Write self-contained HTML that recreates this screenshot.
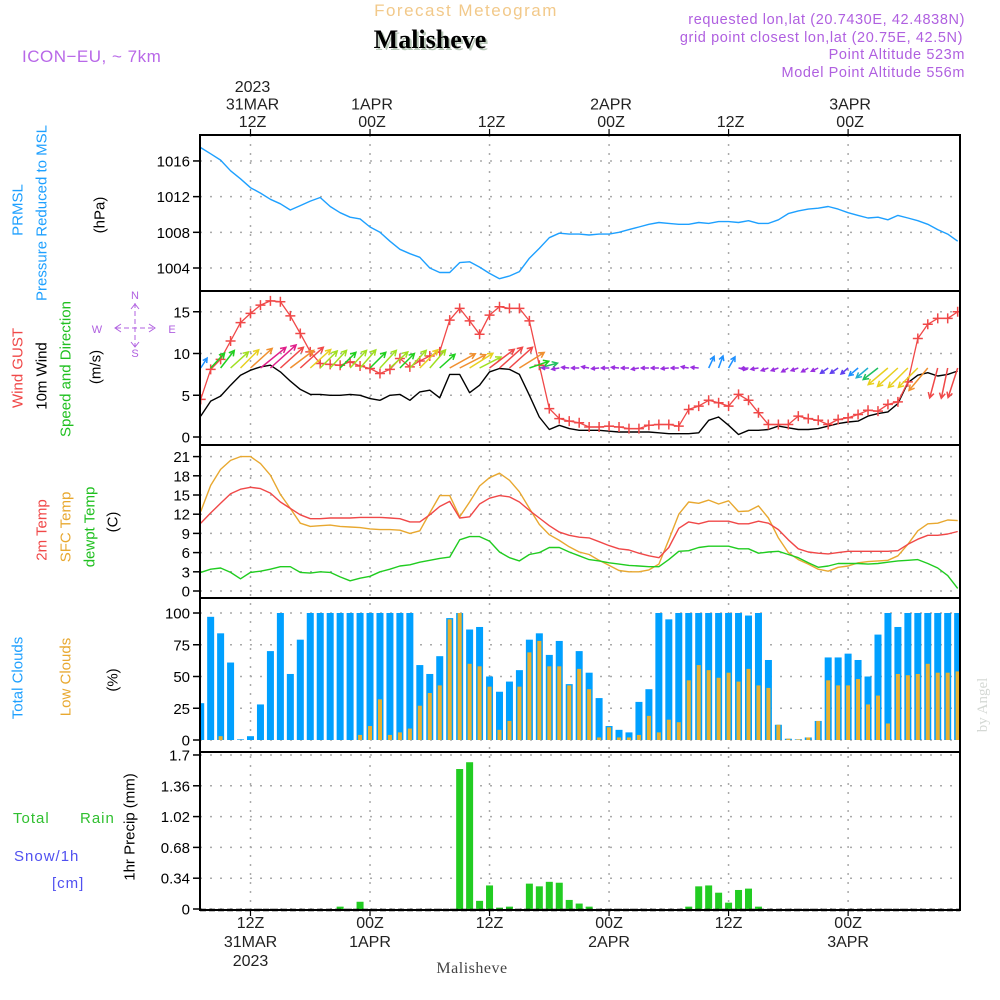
<!DOCTYPE html>
<html><head><meta charset="utf-8"><title>Malisheve Meteogram</title>
<style>
html,body{margin:0;padding:0;background:#fff;}
svg{display:block;}
text{font-family:"Liberation Sans",sans-serif;}
</style></head>
<body>
<svg id="chart" width="1000" height="1000" viewBox="0 0 1000 1000" xmlns="http://www.w3.org/2000/svg">
<rect x="0" y="0" width="1000" height="1000" fill="#fff"/>
<!-- header -->
<text x="466" y="16" text-anchor="middle" font-size="17" fill="#f2c98a" letter-spacing="1.5">Forecast Meteogram</text>
<text x="432" y="50" text-anchor="middle" font-size="26" font-weight="bold" fill="#b8c8b8" style="font-family:'Liberation Serif',serif">Malisheve</text>
<text x="430" y="48" text-anchor="middle" font-size="26" font-weight="bold" fill="#000" style="font-family:'Liberation Serif',serif">Malisheve</text>
<text x="22" y="62" font-size="17" fill="#b868e8" letter-spacing="0.5">ICON−EU, ~ 7km</text>
<text x="965" y="24" text-anchor="end" font-size="14.5" fill="#b060e0" letter-spacing="0.6">requested lon,lat (20.7430E, 42.4838N)</text>
<text x="963" y="42" text-anchor="end" font-size="14.5" fill="#b060e0" letter-spacing="0.6">grid point closest lon,lat (20.75E, 42.5N)</text>
<text x="965" y="59" text-anchor="end" font-size="14.5" fill="#b060e0" letter-spacing="0.6">Point Altitude 523m</text>
<text x="965" y="77" text-anchor="end" font-size="14.5" fill="#b060e0" letter-spacing="0.6">Model Point Altitude 556m</text>

<!-- left axis titles -->
<g font-size="15">
<text transform="translate(18,210) rotate(-90)" text-anchor="middle" dominant-baseline="central" fill="#1ea0ff">PRMSL</text>
<text transform="translate(42,213) rotate(-90)" text-anchor="middle" dominant-baseline="central" fill="#1ea0ff">Pressure Reduced to MSL</text>
<text transform="translate(100,215) rotate(-90)" text-anchor="middle" dominant-baseline="central" fill="#000">(hPa)</text>
<text transform="translate(18,368) rotate(-90)" text-anchor="middle" dominant-baseline="central" fill="#f04848">Wind GUST</text>
<text transform="translate(42,376) rotate(-90)" text-anchor="middle" dominant-baseline="central" fill="#000">10m Wind</text>
<text transform="translate(66,369) rotate(-90)" text-anchor="middle" dominant-baseline="central" fill="#20c020">Speed and Direction</text>
<text transform="translate(96,367) rotate(-90)" text-anchor="middle" dominant-baseline="central" fill="#000">(m/s)</text>
<text transform="translate(42,530) rotate(-90)" text-anchor="middle" dominant-baseline="central" fill="#f04848">2m Temp</text>
<text transform="translate(66,527) rotate(-90)" text-anchor="middle" dominant-baseline="central" fill="#e8a830">SFC Temp</text>
<text transform="translate(90,527) rotate(-90)" text-anchor="middle" dominant-baseline="central" fill="#20c020">dewpt Temp</text>
<text transform="translate(113,522) rotate(-90)" text-anchor="middle" dominant-baseline="central" fill="#000">(C)</text>
<text transform="translate(18,678) rotate(-90)" text-anchor="middle" dominant-baseline="central" fill="#1ea0ff">Total Clouds</text>
<text transform="translate(66,677) rotate(-90)" text-anchor="middle" dominant-baseline="central" fill="#e8a830">Low Clouds</text>
<text transform="translate(113,680) rotate(-90)" text-anchor="middle" dominant-baseline="central" fill="#000">(%)</text>
<text transform="translate(130,827) rotate(-90)" text-anchor="middle" dominant-baseline="central" fill="#000">1hr Precip (mm)</text>
</g>
<text x="13" y="823" font-size="15" fill="#30c030" letter-spacing="1">Total</text>
<text x="80" y="823" font-size="15" fill="#30c030" letter-spacing="1">Rain</text>
<text x="14" y="861" font-size="15" fill="#5050f0" letter-spacing="1">Snow/1h</text>
<text x="52" y="888" font-size="15" fill="#5050f0" letter-spacing="1">[cm]</text>
<!-- compass -->
<g fill="#b060e0" font-size="11" text-anchor="middle">
<text x="135" y="299">N</text><text x="135" y="357">S</text><text x="97" y="333">W</text><text x="172" y="333">E</text>
<line x1="116" y1="328" x2="154" y2="328" stroke="#b060e0" stroke-width="1" stroke-dasharray="5,3"/>
<line x1="135" y1="303" x2="135" y2="347" stroke="#b060e0" stroke-width="1" stroke-dasharray="5,3"/>
<path d="M121 324 L115 328 L121 332 M149 324 L155 328 L149 332 M131 309 L135 304 L139 309 M131 342 L135 347 L139 342" stroke="#b060e0" fill="none"/>
</g>
<text transform="translate(983,705) rotate(-90)" text-anchor="middle" dominant-baseline="central" font-size="15" fill="#d4d8d4" style="font-family:'Liberation Serif',serif">by Angel</text>
<text x="472" y="973" text-anchor="middle" font-size="16" fill="#444" style="font-family:'Liberation Serif',serif" letter-spacing="0.5">Malisheve</text>
<g id="plot"></g>
</svg>
<script>
// ---- data (hourly, hours since 00Z 31MAR, from h=7 to h=83) ----
const hourStart = 7;
const pressure = [1017.5,1016.8,1016.1,1014.9,1014.0,1013.0,1012.4,1011.7,1011.2,1010.5,1011.0,1011.5,1011.9,1010.9,1010.2,1009.7,1009.5,1008.6,1008.0,1007.0,1006.1,1005.6,1005.2,1004.0,1003.5,1003.5,1004.6,1004.7,1004.1,1003.4,1002.8,1003.1,1003.6,1005.1,1006.2,1007.4,1007.9,1007.8,1007.8,1007.7,1007.8,1007.8,1008.0,1008.3,1008.6,1008.9,1009.1,1009.0,1008.9,1008.9,1009.1,1009.0,1009.2,1009.2,1009.1,1009.3,1009.0,1009.0,1009.4,1010.1,1010.4,1010.6,1010.7,1010.9,1010.6,1010.2,1009.9,1009.6,1009.7,1009.4,1009.9,1009.6,1009.3,1008.9,1008.3,1007.8,1007.0];
const gust = [4.5,8.1,9.3,11.5,13.7,14.8,15.8,16.3,16.2,14.5,12.4,10.2,8.8,8.7,8.6,9.0,8.5,8.2,7.6,8.1,9.4,8.4,9.1,9.7,10.2,14.0,15.4,13.9,12.3,14.6,15.6,15.4,15.4,13.9,8.6,3.4,2.2,1.9,1.7,1.2,1.2,1.3,1.2,1.0,1.0,1.4,1.5,1.5,1.3,3.3,3.7,4.4,4.1,3.7,5.1,4.4,2.9,1.5,1.5,1.5,2.5,2.2,2.0,1.5,2.1,2.3,2.7,3.2,3.1,3.9,4.2,6.6,11.8,13.5,14.2,14.2,15.0];
const wind10m = [2.5,4.3,4.9,6.2,7.4,8.0,8.4,8.6,7.8,6.7,5.7,5.1,5.1,5.0,5.0,5.1,5.0,4.6,4.4,5.0,5.1,4.4,5.4,5.6,4.7,7.5,7.5,5.3,6.2,7.8,8.2,8.1,7.5,5.0,2.4,0.9,1.4,1.0,0.8,0.8,0.8,0.7,0.6,0.6,0.6,0.6,0.5,0.4,0.4,0.4,0.5,2.0,2.4,1.4,0.3,0.8,0.8,0.9,1.3,1.1,0.9,0.9,1.0,1.3,1.6,1.8,1.9,2.5,2.8,3.0,4.0,6.5,7.4,7.7,7.3,7.5,7.9];
const arrowSpd = [2.5,5,5.5,6,6.5,7.5,8.5,9,8,7.5,8,7,6,6,5.5,6,6,5.5,6,6,5,6,6.5,6,5,7.5,7.5,7,6,8,8,8,7.5,5,4.5,1.3,1.3,1.3,1.3,1.3,1.3,1.3,1.3,1.3,1.3,1.3,1.3,1.3,1.3,1.3,1.3,2.8,2.8,2.8,1.5,1.3,1.3,1.3,1.3,1.3,1.3,1.3,1.3,1.8,1.8,1.8,2.5,3.5,4.5,6.5,7,7,7,7.5,8,8,8];
const windDir = [213,223,218,228,225,228,231,228,228,233,228,228,225,223,225,223,221,225,223,228,225,223,225,221,228,241,243,238,243,233,228,228,238,251,255,90,80,95,90,100,85,90,95,90,80,90,90,85,90,100,95,205,200,210,280,85,80,70,70,60,70,60,65,55,55,50,50,50,52,50,48,45,45,40,15,12,18];
const temp2m = [10.6,12.2,13.7,15.2,15.9,16.2,16.0,15.3,13.9,12.9,11.9,11.3,11.3,11.4,11.4,11.4,11.5,11.5,11.5,11.4,11.3,10.8,10.8,11.9,13.2,14.0,11.4,11.6,13.6,14.5,14.9,14.7,13.9,12.6,11.4,10.2,9.2,8.7,8.4,8.3,7.7,7.1,6.6,6.4,5.9,5.5,5.2,6.8,9.8,10.8,10.5,10.9,10.9,10.9,10.5,10.5,10.9,10.6,9.6,8.0,6.6,6.1,5.9,5.8,6.0,6.2,6.2,6.2,6.2,6.2,6.3,7.3,8.1,8.7,8.7,8.9,9.3];
const tempSfc = [12.4,16.5,19.0,20.4,21.0,21.0,19.9,18.1,15.1,12.9,10.6,10.1,10.2,10.3,10.1,10.0,9.9,9.7,9.6,9.6,9.5,9.0,9.4,12.2,14.9,14.9,11.6,13.9,16.4,17.7,18.4,17.3,15.5,12.9,10.4,8.8,7.9,6.9,6.1,5.7,4.8,4.0,3.2,3.0,3.0,3.3,4.2,8.0,12.0,13.9,13.7,14.2,13.6,14.1,12.4,12.5,13.3,11.4,8.3,6.0,4.9,4.2,3.4,3.1,3.7,3.9,4.4,4.6,4.7,4.8,5.5,7.3,9.4,10.5,10.6,11.1,11.0];
const dewpt = [2.9,3.4,3.6,2.9,1.9,2.9,3.1,3.4,3.8,3.8,2.9,2.8,3.0,2.9,2.2,1.6,2.0,2.3,3.0,3.4,3.9,4.1,4.5,4.8,5.1,5.3,8.0,8.5,8.5,7.8,6.1,5.2,4.7,5.7,6.0,6.8,6.8,6.1,5.5,4.9,4.7,4.4,4.2,4.0,3.9,3.8,3.8,4.9,6.2,6.3,6.8,7.0,7.0,7.0,6.6,6.6,5.9,6.1,6.2,5.7,5.2,4.4,3.7,3.9,4.3,4.3,4.3,4.2,4.3,4.5,4.7,4.8,4.9,4.3,3.6,2.4,0.4];
const totalClouds = [29,97,84,61,0.5,3,28,70,100,52,79,100,100,100,100,100,100,100,100,100,100,100,59,52,66,96,100,87,89,50,38,46,55,79,84,67,78,44,70,53,33,11,8,6,30,40,100,95,100,100,100,100,100,100,100,98,100,63,12,1,0.5,2,15,65,65,68,63,50,83,100,89,100,100,100,100,100,100];
const lowClouds = [0,0,3,0,0,0,0,0,0,0,0,0,0,0,0,0,4,11,32,4,6,9,27,37,43,95,100,60,58,42,8,15,42,69,78,58,58,43,56,40,2,10,2,2,4,19,6,16,14,47,59,55,49,53,46,56,43,41,12,1,0.5,2,15,47,43,43,48,28,35,13,52,51,52,60,53,53,54];
const precipHours = [21,23,33,34,35,36,37,38,40,41,42,43,44,45,46,56,57,58,59,60,61,62,63];
const precipVals = [0.026,0.08,1.545,1.62,0.09,0.26,0.015,0.026,0.28,0.25,0.30,0.29,0.10,0.06,0.026,0.026,0.25,0.26,0.18,0.07,0.21,0.225,0.026];
const pTicks = [1004,1008,1012,1016];
const wTicks = [0,5,10,15];
const tTicks = [0,3,6,9,12,15,18,21];
const cTicks = [0,25,50,75,100];
const rTicks = [0,0.34,0.68,1.02,1.36,1.7];
const rTickLabels = ["0","0.34","0.68","1.02","1.36","1.7"];
const timeTickHours = [12,24,36,48,60,72];
const topLabels = [["2023","31MAR","12Z"],["","1APR","00Z"],["","","12Z"],["","2APR","00Z"],["","","12Z"],["","3APR","00Z"]];
const botLabels = [["12Z","31MAR","2023"],["00Z","1APR",""],["12Z","",""],["00Z","2APR",""],["12Z","",""],["00Z","3APR",""]];

// ---- axes ----
const X0=200, X1=960;
function xh(h){return 250.5+(h-12)*9.96;}
const yP=v=>268-(v-1004)*8.92;
const yW=v=>437-v*8.35;
const yT=v=>591-v*6.4;
const yC=v=>740-v*1.27;
const yR=v=>909-v*90.6;
const panels=[[135,291],[291,445],[445,598],[598,752],[752,910]];

const NS="http://www.w3.org/2000/svg";
const g=document.getElementById('plot');
function el(tag,attrs,parent){const e=document.createElementNS(NS,tag);for(const k in attrs)e.setAttribute(k,attrs[k]);(parent||g).appendChild(e);return e;}

const defs=el('defs',{});
const cp=el('clipPath',{id:'clipPlot'},defs);
el('rect',{x:X0,y:135,width:X1-X0,height:775},cp);

const grid=el('g',{});


function hgrid(ticks,yf,name){
  ticks.forEach(t=>{const l=el('line',{x1:X0,x2:X1,y1:yf(t),y2:yf(t),stroke:'#aaa','stroke-width':1.5,'stroke-dasharray':'2,8'},grid);
  
  });
}
hgrid(pTicks,yP,'pressure');hgrid(wTicks,yW,'wind');hgrid(tTicks,yT,'temp');hgrid(cTicks,yC,'clouds');hgrid(rTicks,yR,'precip');
timeTickHours.forEach(h=>{const l=el('line',{x1:xh(h),x2:xh(h),y1:135,y2:910,stroke:'#aaa','stroke-width':1.5,'stroke-dasharray':'2,7'},grid);
  
  });

function yticks(ticks,labels,yf,name){
  const gg=el('g',{});
  
  
  ticks.forEach((t,i)=>{
    el('line',{x1:X0-7,x2:X0,y1:yf(t),y2:yf(t),stroke:'#000','stroke-width':1.5},gg);
    const tx=el('text',{x:X0-10,y:yf(t)+5.5,'text-anchor':'end','font-size':15,fill:'#000'},gg);
    tx.textContent=labels[i];
    
    
  });
}
yticks(pTicks,pTicks.map(String),yP,'pressure');
yticks(wTicks,wTicks.map(String),yW,'wind');
yticks(tTicks,tTicks.map(String),yT,'temp');
yticks(cTicks,cTicks.map(String),yC,'clouds');
yticks(rTicks,rTickLabels,yR,'precip');

timeTickHours.forEach((h,i)=>{
  const x=xh(h)+2;
  el('line',{x1:x-2,x2:x-2,y1:129,y2:135,stroke:'#000','stroke-width':1.2});
  el('line',{x1:x-2,x2:x-2,y1:910,y2:916,stroke:'#000','stroke-width':1.2});
  topLabels[i].forEach((s,j)=>{ if(!s)return;
    const t=el('text',{x:x,y:92+j*17.5,'text-anchor':'middle','font-size':16,fill:'#222'});
    t.textContent=s;
    
    });
  botLabels[i].forEach((s,j)=>{ if(!s)return;
    const t=el('text',{x:x-2,y:928+j*19,'text-anchor':'middle','font-size':16,fill:'#222'});
    t.textContent=s;
    
    });
});

const data=el('g',{'clip-path':'url(#clipPlot)'});
function line(arr,yf,color,name,w){
  const pts=arr.map((v,i)=>xh(hourStart+i).toFixed(1)+','+yf(v).toFixed(1)).join(' ');
  const p=el('polyline',{points:pts,fill:'none',stroke:color,'stroke-width':w||1.4,'stroke-linejoin':'round'},data);
  
  
}
line(pressure,yP,'#1ea0ff','pressure-line');
totalClouds.forEach((v,i)=>{const x=xh(hourStart+i);
  const r=el('rect',{x:x-3.5,y:yC(v),width:7,height:yC(0)-yC(v),fill:'#00a0ff'},data);
  
  });
lowClouds.forEach((v,i)=>{const x=xh(hourStart+i);
  const r=el('rect',{x:x-2,y:yC(v),width:4,height:yC(0)-yC(v),fill:'#e8b030'},data);
  
  });
precipHours.forEach((h,i)=>{const x=xh(h);const v=precipVals[i];
  const r=el('rect',{x:x-3.5,y:yR(v),width:7,height:yR(0)-yR(v),fill:'#22cc22'},data);
  
  });
line(tempSfc,yT,'#e8a830','sfc-temp-line');
line(temp2m,yT,'#f04848','temp-2m-line');
line(dewpt,yT,'#20cc20','dewpoint-line');
line(wind10m,yW,'#000','wind-10m-line');
line(gust,yW,'#f04848','gust-line',1.3);
gust.forEach((v,i)=>{const x=xh(hourStart+i),y=yW(v);
  const m=el('path',{d:`M${x-5} ${y}H${x+5}M${x} ${y-5}V${y+5}`,stroke:'#f04848','stroke-width':1.5},data);
  
  });
function spdColor(s){
  if(s<=1.6)return '#9a30e0'; if(s<=2.2)return '#6040f0'; if(s<=3)return '#1e90ff';
  if(s<=4)return '#20b0d0'; if(s<=4.8)return '#20c060'; if(s<=5.6)return '#20d020';
  if(s<=6.4)return '#a0e020'; if(s<=7)return '#e8d020'; if(s<=7.8)return '#f09030';
  if(s<=8.3)return '#f04848'; return '#e0208a';}
windDir.forEach((d,i)=>{
  const s=arrowSpd[i];const x=xh(hourStart+i),y=368;
  const L=3+s*3.5;const r=d*Math.PI/180;
  const dx=-Math.sin(r)*L, dy=Math.cos(r)*L;
  const ex=x+dx, ey=y+dy;
  const a=Math.atan2(dy,dx), hl=Math.min(6,2+L*0.25);
  const h1x=ex-hl*Math.cos(a-0.5),h1y=ey-hl*Math.sin(a-0.5),h2x=ex-hl*Math.cos(a+0.5),h2y=ey-hl*Math.sin(a+0.5);
  const c=spdColor(s);
  const p=el('path',{d:`M${x.toFixed(1)} ${y}L${ex.toFixed(1)} ${ey.toFixed(1)}M${h1x.toFixed(1)} ${h1y.toFixed(1)}L${ex.toFixed(1)} ${ey.toFixed(1)}L${h2x.toFixed(1)} ${h2y.toFixed(1)}`,stroke:c,'stroke-width':1.5,fill:'none'},data);
  
  
});

const fr=el('g',{});


panels.forEach(([a,b])=>{
  el('rect',{x:X0,y:a,width:X1-X0,height:b-a,fill:'none',stroke:'#000','stroke-width':2},fr);
});
el('line',{x1:X0,x2:X1,y1:910,y2:910,stroke:'#000','stroke-width':2.5,'stroke-dasharray':'6,3'},fr);
</script>
</body></html>
